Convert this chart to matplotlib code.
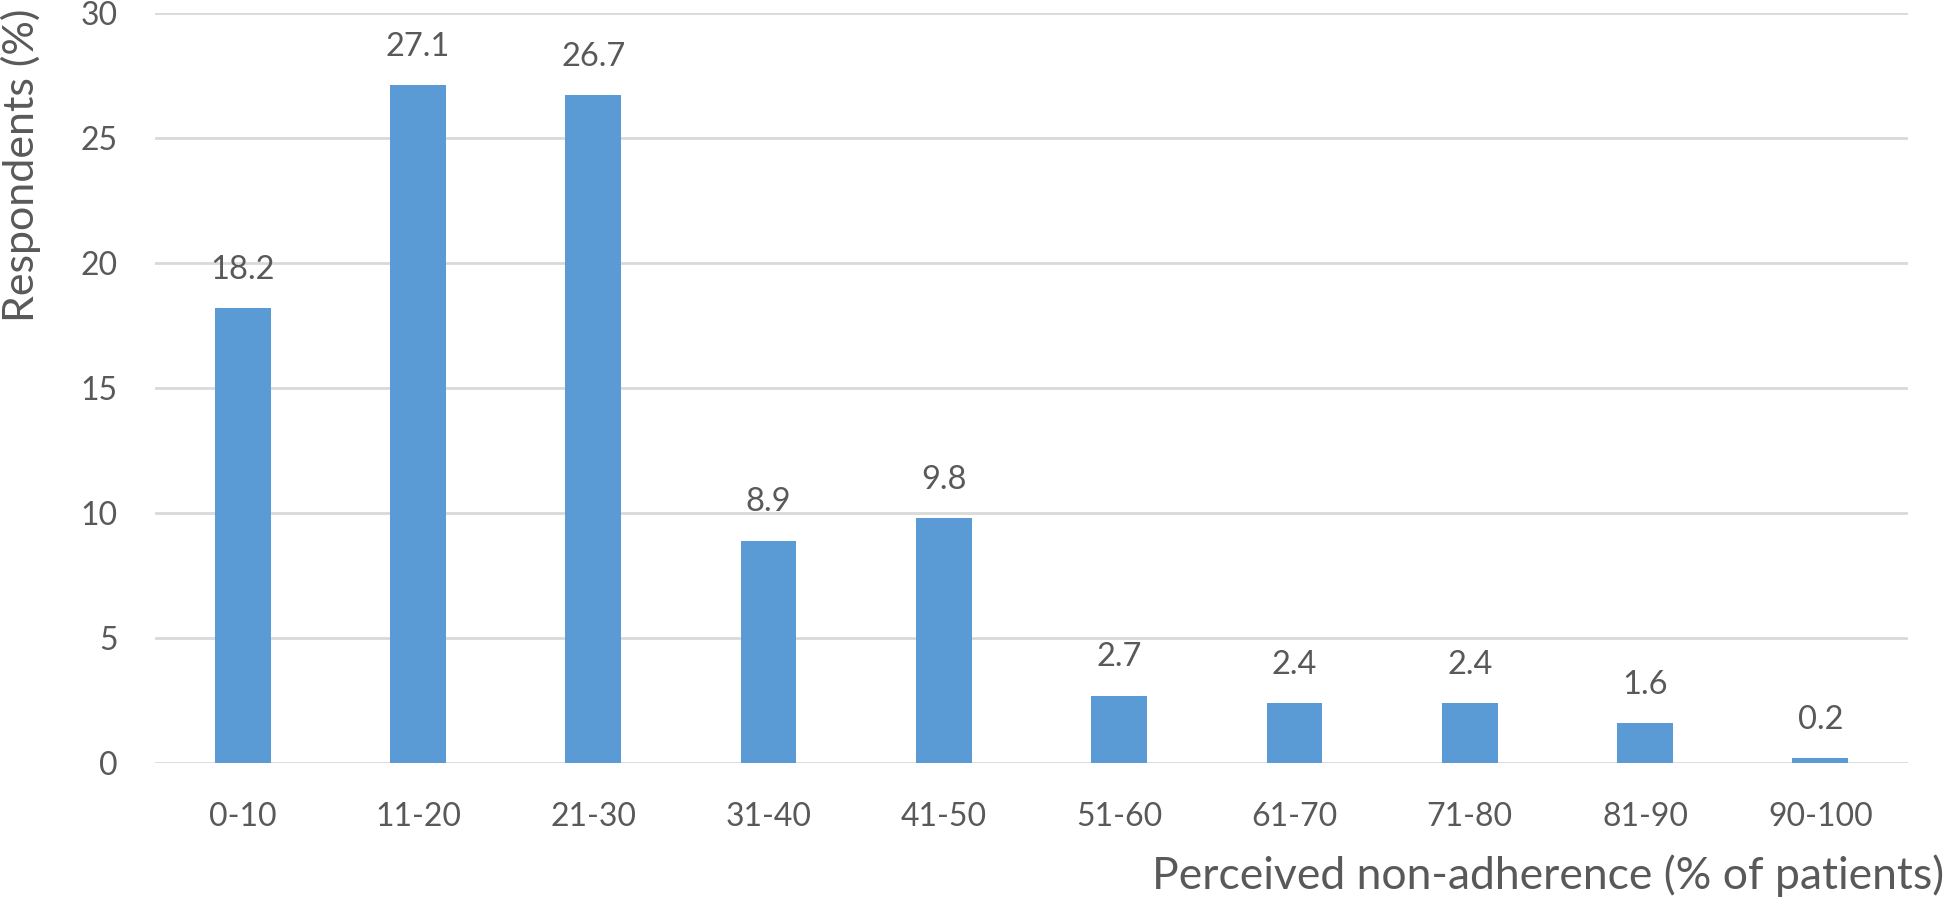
import matplotlib
matplotlib.use("Agg")
import matplotlib.pyplot as plt
import numpy as np

categories = ["0-10", "11-20", "21-30", "31-40", "41-50", "51-60", "61-70", "71-80", "81-90", "90-100"]
values = [18.2, 27.1, 26.7, 8.9, 9.8, 2.7, 2.4, 2.4, 1.6, 0.2]
yticks = [0, 5, 10, 15, 20, 25, 30]

plt.rcParams['font.family'] = ['Lato', 'DejaVu Sans']
text_color = "#595959"
bar_color = "#5B9BD5"
grid_color = "#D9D9D9"

W, H = 1946, 905
fig = plt.figure(figsize=(W / 100, H / 100), dpi=100)
ax = fig.add_axes([155 / W, 1 - 763 / H, (1908 - 155) / W, (763 - 13) / H])

x = np.arange(len(categories))
ax.bar(x, values, width=0.318, color=bar_color, zorder=3)
for xi, v in zip(x, values):
    ax.annotate(f"{v:.1f}", (xi, v), xytext=(0, 21), textcoords="offset points",
                ha="center", va="baseline", fontsize=23.5, color=text_color)

ax.set_xlim(-0.5, len(categories) - 0.5)
ax.set_ylim(0, 30)
ax.set_yticks(yticks)
ax.set_xticks(x)
ax.set_xticklabels(categories)
ax.tick_params(axis="both", length=0, labelsize=23, colors=text_color)
ax.tick_params(axis="y", pad=27)
ax.tick_params(axis="x", pad=28)
ax.yaxis.grid(True, color=grid_color, linewidth=2, zorder=0)
for s in ax.spines.values():
    s.set_visible(False)

fig.text(1944 / W, 1 - 889 / H, "Perceived non-adherence (% of patients)", ha="right",
         va="baseline", fontsize=32, color=text_color)
fig.text(21 / W, 1 - 9 / H, "Respondents (%)", rotation=90, ha="center", va="top",
         fontsize=31, color=text_color)

fig.savefig("out.png", dpi=100)
